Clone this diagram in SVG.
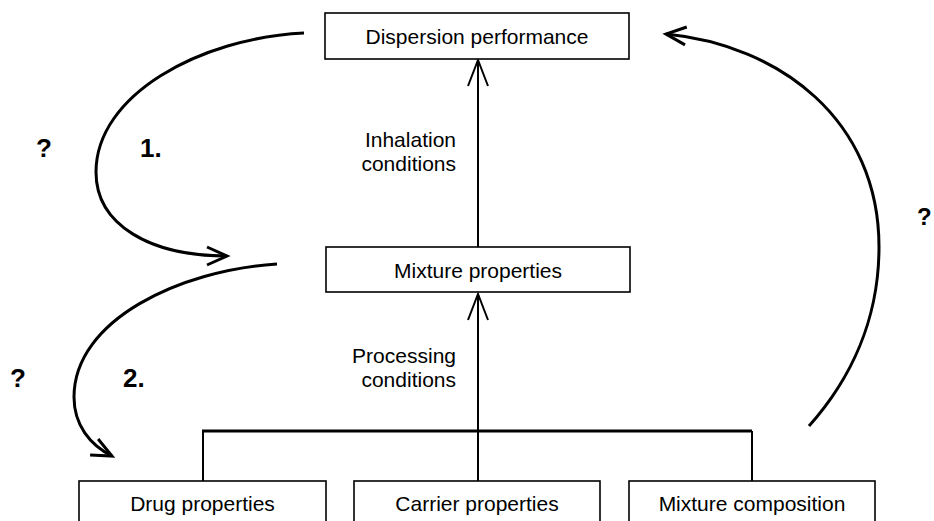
<svg xmlns="http://www.w3.org/2000/svg" width="934" height="521" viewBox="0 0 934 521">
<style>
.box{fill:#fff;stroke:#000;stroke-width:1.6}
.lbl{font-family:"Liberation Sans",Arial,sans-serif;font-size:21px;fill:#000}
.mid{text-anchor:middle}
.end{text-anchor:end}
.bold{font-weight:bold;font-size:26px}
.ln{fill:none;stroke:#000;stroke-width:2}
.bar{fill:none;stroke:#000;stroke-width:3}
.crv{fill:none;stroke:#000;stroke-width:3}
</style>
<defs>
<marker id="arrS" markerUnits="userSpaceOnUse" markerWidth="40" markerHeight="40" refX="0" refY="0" orient="auto" style="overflow:visible">
<path d="M-26,-10 L0,0 L-26,10" fill="none" stroke="#000" stroke-width="2"/>
</marker>
<marker id="arrC" markerUnits="userSpaceOnUse" markerWidth="40" markerHeight="40" refX="0" refY="0" orient="auto" style="overflow:visible">
<path d="M-20,-9 L0,0 L-20,9" fill="none" stroke="#000" stroke-width="3"/>
</marker>
</defs>
<rect width="934" height="521" fill="#fff"/>
<g id="connectors">
<line class="ln" x1="478" y1="247" x2="478" y2="60" marker-end="url(#arrS)"/>
<line class="ln" x1="478" y1="481" x2="478" y2="294" marker-end="url(#arrS)"/>
<line class="bar" x1="202" y1="431" x2="752" y2="431"/>
<line class="ln" x1="203" y1="431" x2="203" y2="481"/>
<line class="ln" x1="752" y1="431" x2="752" y2="481"/>
<path class="crv" d="M304,33 C200,38 96,95 96,172 C96,225 150,256 227,256" marker-end="url(#arrC)"/>
<path class="crv" d="M277,264 C180,270 74,320 74,397 C74,425 90,445 112,456" marker-end="url(#arrC)"/>
<path class="crv" d="M809,426 C850,380 879,320 879,247 C879,120 780,45 666,34" marker-end="url(#arrC)"/>
</g>
<g id="dispersion">
<rect class="box" x="325" y="13" width="304" height="46"/>
<text class="lbl mid" x="477" y="44">Dispersion performance</text>
</g>
<g id="mixture-properties">
<rect class="box" x="326" y="247" width="304" height="45"/>
<text class="lbl mid" x="478" y="278">Mixture properties</text>
</g>
<g id="drug">
<rect class="box" x="79" y="481" width="247" height="60"/>
<text class="lbl mid" x="202.5" y="511">Drug properties</text>
</g>
<g id="carrier">
<rect class="box" x="354" y="481" width="246" height="60"/>
<text class="lbl mid" x="477" y="511">Carrier properties</text>
</g>
<g id="composition">
<rect class="box" x="629" y="481" width="246" height="60"/>
<text class="lbl mid" x="752" y="511">Mixture composition</text>
</g>
<g id="labels">
<text class="lbl end" x="456" y="147">Inhalation</text>
<text class="lbl end" x="456" y="171">conditions</text>
<text class="lbl end" x="456" y="363">Processing</text>
<text class="lbl end" x="456" y="387">conditions</text>
<text class="lbl bold" x="36" y="157">?</text>
<text class="lbl bold" x="140" y="157">1.</text>
<text class="lbl bold" x="10" y="387">?</text>
<text class="lbl bold" x="123" y="387">2.</text>
<text class="lbl bold" x="917" y="225" style="font-size:24px">?</text>
</g>
</svg>
